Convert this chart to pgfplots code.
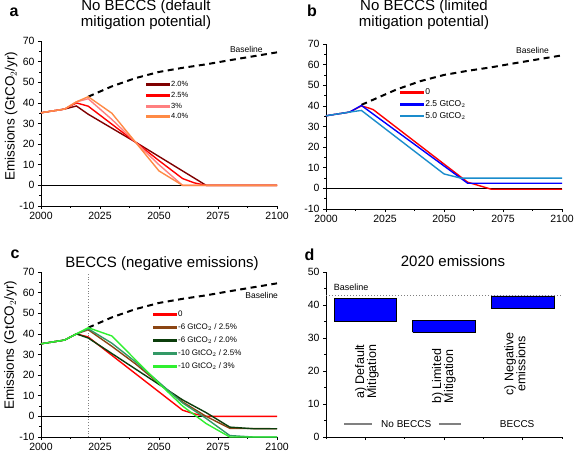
\documentclass[border=0pt]{standalone}
\usepackage{fontspec}
\setmainfont{Liberation Sans}
\usepackage{pgfplots}
\pgfplotsset{compat=1.18}
\definecolor{cdred}{HTML}{7F0000}
\definecolor{cred}{HTML}{FF0000}
\definecolor{cpink}{HTML}{FF8080}
\definecolor{corange}{HTML}{FF8A45}
\definecolor{cblue}{HTML}{0000FF}
\definecolor{csteel}{HTML}{1A8CCC}
\definecolor{cbrown}{HTML}{8B4513}
\definecolor{cdgreen}{HTML}{0B3D0B}
\definecolor{cteal}{HTML}{339966}
\definecolor{clime}{HTML}{30F030}
\tikzset{
 dat/.style={line width=1.4pt},
 bl/.style={black, line width=2pt, dash pattern=on 6pt off 4.5pt},
}
\pgfplotsset{
 base/.style={scale only axis, width=236pt, height=165pt,
   axis x line*=bottom, axis y line*=left, tick align=outside,
   major tick length=3pt, minor tick length=1.8pt,
   tick style={black, line width=0.6pt}, axis line style={black, line width=0.8pt},
   tick label style={font=\fontsize{10.5}{12}\selectfont},
   /pgf/number format/assume math mode=true, /pgf/number format/1000 sep={},
   clip=false},
 ts/.style={base, xmin=2000, xmax=2100, ymin=-10, ymax=70,
   xtick={2000,2025,2050,2075,2100}, ytick={-10,0,...,70},
   minor x tick num=1, minor y tick num=1,
   legend cell align=left},
 ylab/.style={ylabel={Emissions (GtCO$_2$/yr)}, ylabel style={font=\fontsize{13.5}{15}\selectfont}},
}
\begin{document}
\begin{tikzpicture}
\useasboundingbox (0pt,0pt) rectangle (575pt,-452pt);
% ---------------- panel a
\begin{axis}[ts, ylab, at={(41pt,-206pt)}, anchor=south west,
  ylabel style={at={(axis description cs:-0.127,0.545)}, anchor=center},
  legend image code/.code={\fill[#1] (0pt,-0.75pt) rectangle (23pt,0.75pt);},
  legend style={at={(axis cs:2043,52)}, anchor=north west, draw=none, fill=none,
    font=\fontsize{7.5}{8}\selectfont, row sep=2pt, nodes={inner sep=1pt}}]
\addplot[black, line width=0.8pt, forget plot] coordinates {(2000,0)(2100,0)};
\addplot[bl, forget plot] coordinates {(2020,43)(2030,48)(2040,52)(2050,55)(2060,57)(2070,58.7)(2080,60.7)(2090,62.6)(2100,64.5)};
\addplot[dat, cdred] coordinates {(2000,35.2)(2010,37)(2015,38.5)(2020,34.5)(2040,21)(2050,14)(2060,7)(2070,0)(2100,0)};
\addlegendentry{2.0\%}
\addplot[dat, cred] coordinates {(2000,35.2)(2010,37)(2015,40)(2020,38.4)(2040,21)(2050,12)(2060,3.3)(2065,1.2)(2070,0)(2100,0)};
\addlegendentry{2.5\%}
\addplot[dat, cpink] coordinates {(2000,35.2)(2010,37)(2015,40.5)(2020,42)(2030,32)(2040,21)(2050,10)(2060,0)(2100,0)};
\addlegendentry{3\%}
\addplot[dat, corange] coordinates {(2000,35.2)(2010,37)(2015,40.5)(2020,43)(2030,35)(2040,21)(2050,7)(2060,0)(2100,0)};
\addlegendentry{4.0\%}
\node[font=\fontsize{8.5}{9}\selectfont] at (axis cs:2087,66) {Baseline};
\end{axis}
% ---------------- panel b
\begin{axis}[ts, at={(326pt,-209pt)}, anchor=south west,
  legend image code/.code={\fill[#1] (0pt,-0.75pt) rectangle (23pt,0.75pt);},
  legend style={at={(axis cs:2030,50)}, anchor=north west, draw=none, fill=none,
    font=\fontsize{8.5}{9}\selectfont, row sep=2.5pt, nodes={inner sep=1pt}}]
\addplot[black, line width=0.8pt, forget plot] coordinates {(2000,0)(2100,0)};
\addplot[bl, forget plot] coordinates {(2015,40.5)(2020,43)(2030,48)(2040,52)(2050,55)(2060,57)(2070,58.7)(2080,60.7)(2090,62.6)(2100,64.5)};
\addplot[dat, cred] coordinates {(2000,35.2)(2010,37)(2015,40)(2018,39)(2020,38.2)(2060,3)(2070,-0.4)(2100,-0.4)};
\addlegendentry{0}
\addplot[dat, cblue] coordinates {(2000,35.2)(2010,37)(2015,40.2)(2060,2.5)(2100,2.5)};
\addlegendentry{2.5 GtCO$_2$}
\addplot[dat, csteel] coordinates {(2000,35.2)(2010,37)(2015,37.8)(2050,7)(2057,5)(2100,5)};
\addlegendentry{5.0 GtCO$_2$}
\node[font=\fontsize{8.5}{9}\selectfont] at (axis cs:2087.5,67) {Baseline};
\end{axis}
% ---------------- panel c
\begin{axis}[ts, ylab, at={(41pt,-437pt)}, anchor=south west,
  ylabel style={at={(axis description cs:-0.13,0.555)}, anchor=center},
  legend image code/.code={\fill[#1] (0pt,-0.75pt) rectangle (23pt,0.75pt);},
  legend style={at={(axis cs:2046,52.6)}, anchor=north west, draw=none, fill=none,
    font=\fontsize{8}{9}\selectfont, row sep=3.6pt, nodes={inner sep=1pt}}]
\addplot[black, line width=0.8pt, forget plot] coordinates {(2000,0)(2100,0)};
\addplot[gray, dotted, line width=0.8pt, forget plot] coordinates {(2020,-10)(2020,70)};
\addplot[bl, forget plot] coordinates {(2020,43)(2030,48)(2040,52)(2050,55)(2060,57)(2070,58.7)(2080,60.7)(2090,62.6)(2100,64.5)};
\addplot[dat, cred] coordinates {(2000,35.2)(2010,37)(2015,40)(2020,38.5)(2060,3)(2065,1.2)(2070,0)(2100,0)};
\addlegendentry{0}
\addplot[dat, cbrown] coordinates {(2000,35.2)(2010,37)(2015,40)(2020,42)(2030,34)(2040,25.5)(2050,16)(2060,7)(2070,0)(2080,-5.8)(2100,-6)};
\addlegendentry{-6 GtCO$_2$ / 2.5\%}
\addplot[dat, cdgreen] coordinates {(2000,35.2)(2010,37)(2015,40)(2020,38)(2050,15.5)(2060,8)(2070,1.8)(2080,-5.2)(2090,-6)(2100,-6)};
\addlegendentry{-6 GtCO$_2$ / 2.0\%}
\addplot[dat, cteal] coordinates {(2000,35.2)(2010,37)(2015,40)(2020,42.5)(2030,35.5)(2040,26.5)(2050,16.5)(2060,6.5)(2070,-1)(2080,-9.3)(2090,-10)(2100,-10)};
\addlegendentry{-10 GtCO$_2$ / 2.5\%}
\addplot[dat, clime] coordinates {(2000,35.2)(2010,37)(2015,40)(2020,43)(2030,39)(2040,27.5)(2050,16)(2060,5)(2070,-3.5)(2080,-10)(2100,-10)};
\addlegendentry{-10 GtCO$_2$ / 3\%}
\node[font=\fontsize{8.5}{9}\selectfont] at (axis cs:2093.5,58.8) {Baseline};
\end{axis}
% ---------------- panel d
\begin{axis}[base, at={(326pt,-437pt)}, anchor=south west,
  xmin=-0.5, xmax=2.5, ymin=0, ymax=50, ytick={0,10,...,50}, minor y tick num=1,
  xtick={0,1,2}, xticklabels={}, minor xtick={-0.5,0.5,1.5,2.5}]
\addplot[gray, dotted, line width=1pt] coordinates {(-0.5,42.8)(2.5,42.8)};
\addplot[fill=cblue, draw=black, line width=0.4pt] coordinates {(-0.395,35)(0.395,35)(0.395,42)(-0.395,42)(-0.395,35)};
\addplot[fill=cblue, draw=black, line width=0.4pt] coordinates {(0.6,31.7)(1.4,31.7)(1.4,35.3)(0.6,35.3)(0.6,31.7)};
\addplot[fill=cblue, draw=black, line width=0.4pt] coordinates {(1.6,38.9)(2.4,38.9)(2.4,42.8)(1.6,42.8)(1.6,38.9)};
\node[font=\fontsize{9}{10}\selectfont] at (axis cs:-0.18,45.4) {Baseline};
\node[rotate=90, align=center, font=\fontsize{12.5}{12}\selectfont] at (axis cs:0.02,19.8) {a) Default\\Mitigation};
\node[rotate=90, align=center, font=\fontsize{12.5}{12}\selectfont] at (axis cs:1.0,18.4) {b) Limited\\Mitigation};
\node[rotate=90, align=center, font=\fontsize{12.5}{12}\selectfont] at (axis cs:1.9,22.2) {c) Negative\\emissions};
\node[font=\fontsize{10}{11}\selectfont] at (axis cs:0.52,3.8) {No BECCS};
\node[font=\fontsize{10}{11}\selectfont] at (axis cs:1.93,3.8) {BECCS};
\fill[gray] (axis cs:-0.27,3.5) rectangle (axis cs:0.08,4.1);
\fill[gray] (axis cs:0.94,3.5) rectangle (axis cs:1.21,4.1);
\end{axis}
% ---------------- titles
\node[font=\fontsize{16}{18}\selectfont\bfseries, anchor=base] at (14pt,-17pt) {a};
\node[font=\fontsize{15}{17}\selectfont, anchor=base] at (146pt,-11pt) {No BECCS (default};
\node[font=\fontsize{15}{17}\selectfont, anchor=base] at (146pt,-26.7pt) {mitigation potential)};
\node[font=\fontsize{16}{18}\selectfont\bfseries, anchor=base] at (312pt,-17pt) {b};
\node[font=\fontsize{15}{17}\selectfont, anchor=base] at (424pt,-11pt) {No BECCS (limited};
\node[font=\fontsize{15}{17}\selectfont, anchor=base] at (424pt,-26.7pt) {mitigation potential)};
\node[font=\fontsize{16}{18}\selectfont\bfseries, anchor=base] at (15pt,-258pt) {c};
\node[font=\fontsize{15}{17}\selectfont, anchor=base] at (162pt,-267.7pt) {BECCS (negative emissions)};
\node[font=\fontsize{16}{18}\selectfont\bfseries, anchor=base] at (309.5pt,-260pt) {d};
\node[font=\fontsize{15}{17}\selectfont, anchor=base] at (453pt,-266.7pt) {2020 emissions};
\end{tikzpicture}
\end{document}
